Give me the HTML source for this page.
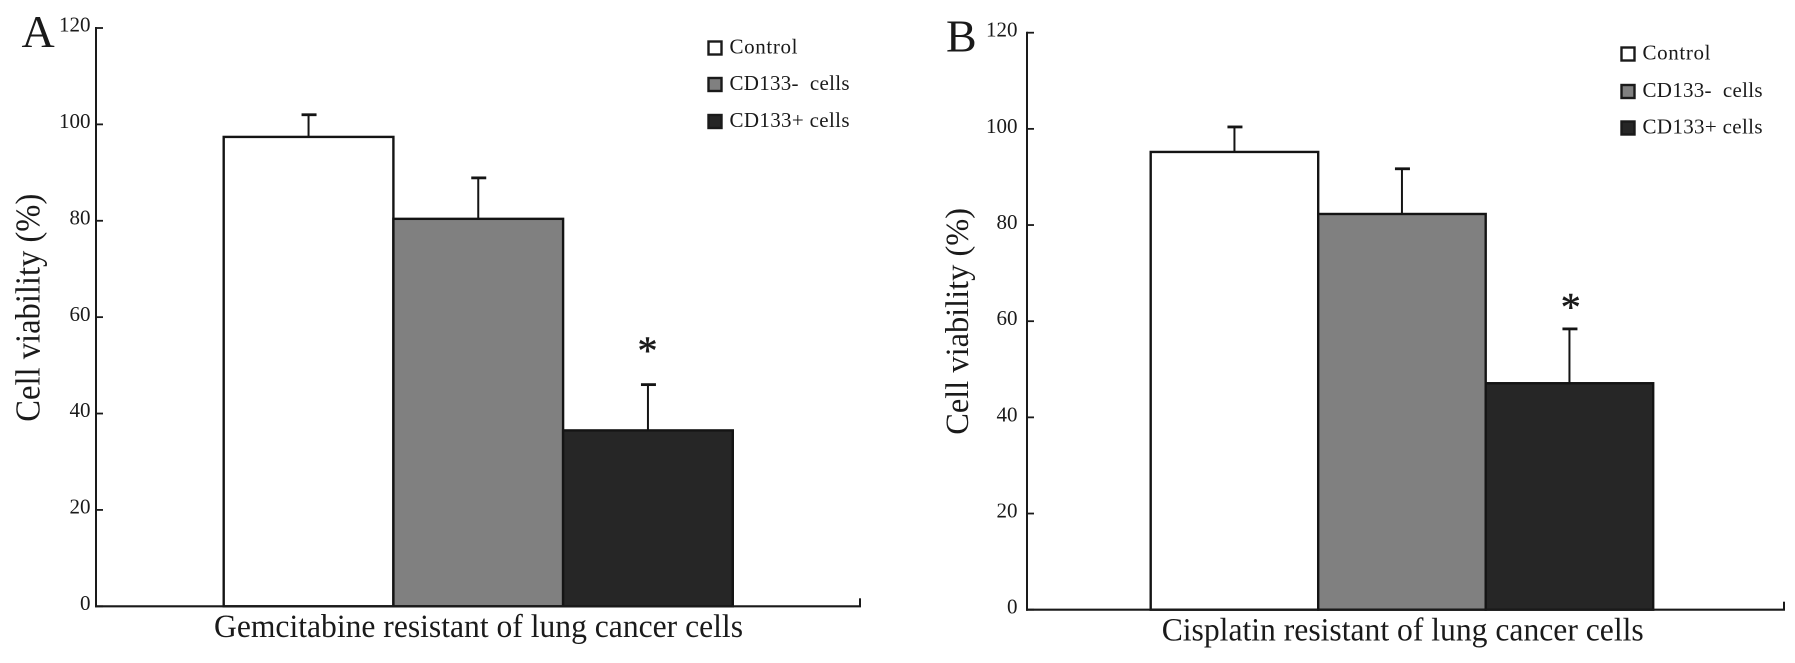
<!DOCTYPE html>
<html lang="en">
<head>
<meta charset="utf-8">
<title>Cell viability in resistant lung cancer cells</title>
<style>
html,body{margin:0;padding:0;background:#fff;width:1795px;height:663px;overflow:hidden}
svg{display:block}
text{font-family:"Liberation Serif",serif;fill:#1a1a1a;white-space:pre}
</style>
</head>
<body>
<svg id="figure" xmlns="http://www.w3.org/2000/svg" width="1795" height="663" viewBox="0 0 1795 663"></svg>
<script>
const categories = ['Control', 'CD133-  cells', 'CD133+ cells'];
const tickLabels = [0, 20, 40, 60, 80, 100, 120];
const gemcitabineValues = [97.4, 80.4, 36.5];
const gemcitabineErrors = [4.6, 8.5, 9.5];
const cisplatinValues = [95.2, 82.3, 47.1];
const cisplatinErrors = [5.2, 9.4, 11.3];
const barFills = ['#ffffff', '#808080', '#262626'];

const svg = document.getElementById('figure');
const NS = 'http://www.w3.org/2000/svg';

function make(parent, tag, attrs, content) {
  const el = document.createElementNS(NS, tag);
  for (const k in attrs) el.setAttribute(k, attrs[k]);
  if (content !== undefined) el.textContent = content;
  parent.appendChild(el);
  return el;
}

function drawPanel(cfg) {
  const y = v => cfg.y0 - (v / 120) * (cfg.y0 - cfg.y120);
  const x = i => cfg.barStart + i * cfg.band;

  const g = make(svg, 'g', {});
  
  

  const letter = make(g, 'text', {x: cfg.letterX, y: cfg.letterY, 'font-size': 46}, cfg.letter);
  
  

  // bars
  cfg.values.forEach((v, i) => {
    const bar = make(g, 'rect', {x: x(i), y: y(v), width: cfg.band, height: y(0) - y(v),
      fill: barFills[i], stroke: '#141414', 'stroke-width': 2.4});
    
    
  });

  // error bars
  cfg.values.forEach((v, i) => {
    const cx = x(i) + cfg.band / 2;
    const top = y(v + cfg.errors[i]);
    const stem = make(g, 'line', {x1: cx, x2: cx, y1: y(v), y2: top, stroke: '#141414', 'stroke-width': 2});
    
    
    const cap = make(g, 'line', {x1: cx - 7, x2: cx + 8, y1: top, y2: top, stroke: '#141414', 'stroke-width': 2.8});
    
    
  });

  // axes
  const yAxis = make(g, 'line', {x1: cfg.axisX, x2: cfg.axisX, y1: y(120) - 1, y2: y(0) + 1, stroke: '#1a1a1a', 'stroke-width': 2});
  
  
  const xAxis = make(g, 'line', {x1: cfg.axisX - 1, x2: cfg.axisEnd + 1, y1: y(0), y2: y(0), stroke: '#1a1a1a', 'stroke-width': 2.2});
  
  
  const endTick = make(g, 'line', {x1: cfg.axisEnd, x2: cfg.axisEnd, y1: y(0) - 8, y2: y(0), stroke: '#1a1a1a', 'stroke-width': 2});
  
  

  tickLabels.forEach(t => {
    const tick = make(g, 'line', {x1: cfg.axisX, x2: cfg.axisX + 7, y1: y(t), y2: y(t), stroke: '#1a1a1a', 'stroke-width': 1.8});
    
    
    const label = make(g, 'text', {x: cfg.axisX - cfg.labelGap, y: y(t) + cfg.labelDrop, 'font-size': 21, 'text-anchor': 'end'}, String(t));
    
    
  });

  // titles
  const yTitle = make(g, 'text', {transform: 'translate(' + cfg.yTitleX + ' ' + cfg.yTitleBottom + ') rotate(-90)',
    'font-size': cfg.yTitleSize, textLength: cfg.yTitleLen, lengthAdjust: 'spacingAndGlyphs'}, 'Cell viability (%)');
  
  
  const xTitle = make(g, 'text', {x: cfg.xTitleX, y: cfg.xTitleY, 'font-size': 33,
    textLength: cfg.xTitleLen, lengthAdjust: 'spacingAndGlyphs'}, cfg.xTitle);
  
  

  // significance marker
  const star = make(g, 'text', {x: cfg.starX, y: cfg.starY, 'font-size': 40, 'text-anchor': 'middle',
    stroke: '#1a1a1a', 'stroke-width': 0.5}, '*');
  
  

  // legend
  categories.forEach((c, i) => {
    const swatch = make(g, 'rect', {x: cfg.legendX, y: cfg.legendY[i] - 6.5, width: 13, height: 13,
      fill: barFills[i], stroke: '#1a1a1a', 'stroke-width': 2.4});
    
    
    const text = make(g, 'text', {x: cfg.legendX + 21, y: cfg.legendY[i] + 5.5, 'font-size': 21,
      textLength: i === 0 ? cfg.legendLen0 : cfg.legendLen1, lengthAdjust: 'spacing'}, c);
    
    
  });
}

drawPanel({
  id: 'gemcitabine', letter: 'A', letterX: 21.5, letterY: 47,
  values: gemcitabineValues, errors: gemcitabineErrors,
  axisX: 96, axisEnd: 860, y0: 606.3, y120: 28,
  labelGap: 5.5, labelDrop: 3.6,
  barStart: 223.7, band: 169.7,
  yTitleX: 39.3, yTitleBottom: 421.7, yTitleLen: 228, yTitleSize: 35,
  xTitle: 'Gemcitabine resistant of lung cancer cells', xTitleX: 214, xTitleY: 637, xTitleLen: 529,
  starX: 647.5, starY: 364,
  legendX: 708.5, legendY: [48, 84.5, 121.5], legendLen0: 68, legendLen1: 120
});

drawPanel({
  id: 'cisplatin', letter: 'B', letterX: 946, letterY: 51.7,
  values: cisplatinValues, errors: cisplatinErrors,
  axisX: 1027, axisEnd: 1784, y0: 609.7, y120: 32.7,
  labelGap: 9.5, labelDrop: 4,
  barStart: 1150.7, band: 167.5,
  yTitleX: 968, yTitleBottom: 434.7, yTitleLen: 226.7, yTitleSize: 33,
  xTitle: 'Cisplatin resistant of lung cancer cells', xTitleX: 1161.7, xTitleY: 640.3, xTitleLen: 482,
  starX: 1570.7, starY: 320.3,
  legendX: 1621.5, legendY: [54, 91.5, 128], legendLen0: 68, legendLen1: 120
});
</script>
</body>
</html>
